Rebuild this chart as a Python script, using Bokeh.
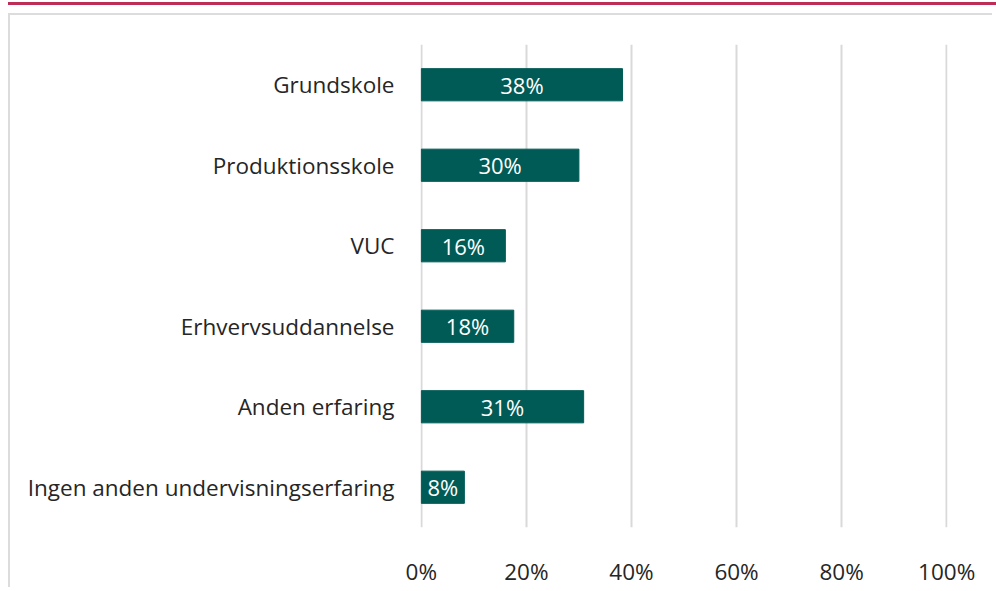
from bokeh.plotting import figure
from bokeh.models import FactorRange, Range1d, FixedTicker, PrintfTickFormatter, ColumnDataSource, Div
from bokeh.layouts import column
from bokeh.embed import file_html
from bokeh.resources import INLINE
from bokeh.core.properties import value

categories = ["Grundskole", "Produktionsskole", "VUC", "Erhvervsuddannelse",
              "Anden erfaring", "Ingen anden undervisningserfaring"]
values = [38.3, 30.0, 16.0, 17.6, 30.9, 8.2]
value_labels = ["38%", "30%", "16%", "18%", "31%", "8%"]
x_ticks = [0, 20, 40, 60, 80, 100]

FONT = "Open Sans"
TEXT_COLOR = "#262626"
BAR_COLOR = "#005B56"

src = ColumnDataSource(dict(cat=categories, val=values, mid=[v / 2 for v in values], lab=value_labels))

p = figure(width=984, height=574, output_backend="svg", toolbar_location=None,
           y_range=FactorRange(factors=list(reversed(categories)), range_padding=0),
           x_range=Range1d(-0.15, 100.15),
           min_border_left=410, min_border_right=47, min_border_top=29, min_border_bottom=59,
           margin=(8, 0, 0, 8),
           styles={"border-top": "2px solid #dcdcdc", "border-left": "2px solid #dcdcdc"})

p.hbar(y="cat", left=0, right="val", height=0.4, source=src, color=BAR_COLOR)
p.text(x="mid", y="cat", text="lab", source=src, text_color="white",
       text_font=value(FONT), text_font_size="22px", text_align="center", text_baseline="middle")

p.xaxis.ticker = FixedTicker(ticks=x_ticks)
p.xaxis.formatter = PrintfTickFormatter(format="%d%%")
for ax in (p.xaxis, p.yaxis):
    ax.axis_line_color = None
    ax.major_tick_line_color = None
    ax.minor_tick_line_color = None
    ax.major_label_text_font = FONT
    ax.major_label_text_font_size = "22.5px"
    ax.major_label_text_color = TEXT_COLOR
p.yaxis.major_label_standoff = 20
p.xaxis.major_label_standoff = 22

p.ygrid.grid_line_color = None
p.xgrid.grid_line_color = "#d9d9d9"
p.xgrid.grid_line_width = 2
p.outline_line_color = None

top_line = Div(text="", width=988, height=3, margin=(2, 0, 0, 8),
               styles={"background-color": "#BE2D57"})

layout = column(top_line, p, spacing=0)

open("out.html", "w").write(file_html(layout, INLINE))
